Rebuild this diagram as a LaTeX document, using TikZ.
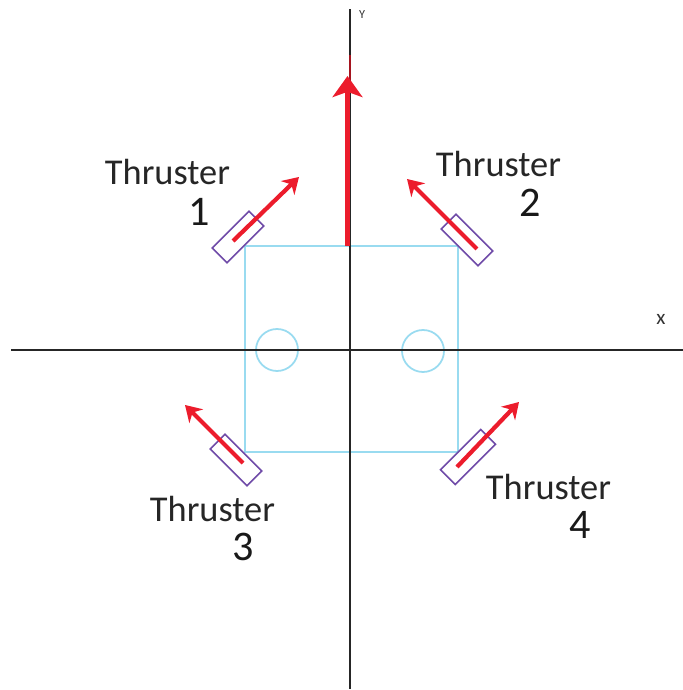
\documentclass[tikz,border=0pt]{standalone}
\usepackage{fontspec}
\setmainfont{Carlito}
\usepackage{xcolor}
\usepackage{tikz}
\usetikzlibrary{arrows.meta}

\definecolor{thrustred}{HTML}{EC1C2C}
\definecolor{bodyblue}{HTML}{99DBF0}
\definecolor{mountpurple}{HTML}{6F4BA8}
\tikzset{
    thruster/.style={draw=mountpurple, line width=0.9pt, minimum width=1.04cm, minimum height=0.42cm, inner sep=0pt},
    force/.style={draw=thrustred, line width=2.4pt, -{Stealth[length=9pt,width=11pt]}},
    thrustname/.style={font=\fontsize{20.7}{24}\selectfont, text=black!85},
    thrustnum/.style={font=\fontsize{24}{26}\selectfont, text=black!90},
    axisname/.style={text=black!80},
    bodyline/.style={draw=bodyblue, line width=1pt, inner sep=0pt}
}

\begin{document}
\begin{tikzpicture}
    \useasboundingbox (0,0) rectangle (13.66,13.8);
    % axes
    \coordinate (xstart) at (0.22,6.8);
    \coordinate (xend) at (13.66,6.8);
    \coordinate (ystart) at (7,0.02);
    \coordinate (yend) at (7,13.62);
    % body
    \node[bodyline, minimum width=4.26cm, minimum height=4.12cm] (body) at (7.03,6.82) {};
    \node[bodyline, circle, minimum size=0.84cm] (wheelL) at (5.54,6.8) {};
    \node[bodyline, circle, minimum size=0.84cm] (wheelR) at (8.46,6.78) {};
    \draw[line width=0.9pt, black!85] (xstart) -- (xend);
    \draw[line width=0.9pt, black!85] (ystart) -- (yend);
    \node[axisname, font=\fontsize{12}{13}\selectfont] (xname) at (13.22,7.42) {x};
    \node[axisname, font=\fontsize{7}{8}\selectfont] (yname) at (7.24,13.5) {Y};
    % resultant
    \coordinate (netfoot) at (6.95,8.88);
    \coordinate (nettip) at (6.95,12.28);
    \coordinate (nettail) at (7,12.7);
    \draw[draw=thrustred!70!black, line width=0.7pt] (7,12.2) -- (nettail);
    \draw[draw=thrustred, line width=3.4pt, -{Stealth[length=12pt,width=17pt,inset=3pt]}] (netfoot) -- (nettip);
    % thrusters
    \node[thruster, rotate=45] (thrusterA) at (4.76,9.06) {};
    \node[thruster, rotate=-45] (thrusterB) at (9.34,9) {};
    \node[thruster, rotate=-45] (thrusterC) at (4.72,4.6) {};
    \node[thruster, rotate=45, minimum width=1.14cm] (thrusterD) at (9.36,4.66) {};
    \coordinate (footA) at (4.66,8.98);
    \coordinate (tipA) at (5.98,10.26);
    \coordinate (footB) at (9.54,8.82);
    \coordinate (tipB) at (8.14,10.22);
    \coordinate (footC) at (4.86,4.54);
    \coordinate (tipC) at (3.7,5.7);
    \coordinate (footD) at (9.14,4.46);
    \coordinate (tipD) at (10.38,5.76);
    \draw[force] (footA) -- (tipA);
    \draw[force] (footB) -- (tipB);
    \draw[force] (footC) -- (tipC);
    \draw[force] (footD) -- (tipD);
    % labels
    \node[thrustname] (nameA) at (3.35,10.36) {Thruster};
    \node[thrustnum] (numA) at (3.98,9.56) {1};
    \node[thrustname] (nameB) at (9.97,10.52) {Thruster};
    \node[thrustnum] (numB) at (10.6,9.74) {2};
    \node[thrustname] (nameC) at (4.25,3.62) {Thruster};
    \node[thrustnum] (numC) at (4.87,2.86) {3};
    \node[thrustname] (nameD) at (10.97,4.06) {Thruster};
    \node[thrustnum] (numD) at (11.6,3.3) {4};
\end{tikzpicture}
\end{document}
